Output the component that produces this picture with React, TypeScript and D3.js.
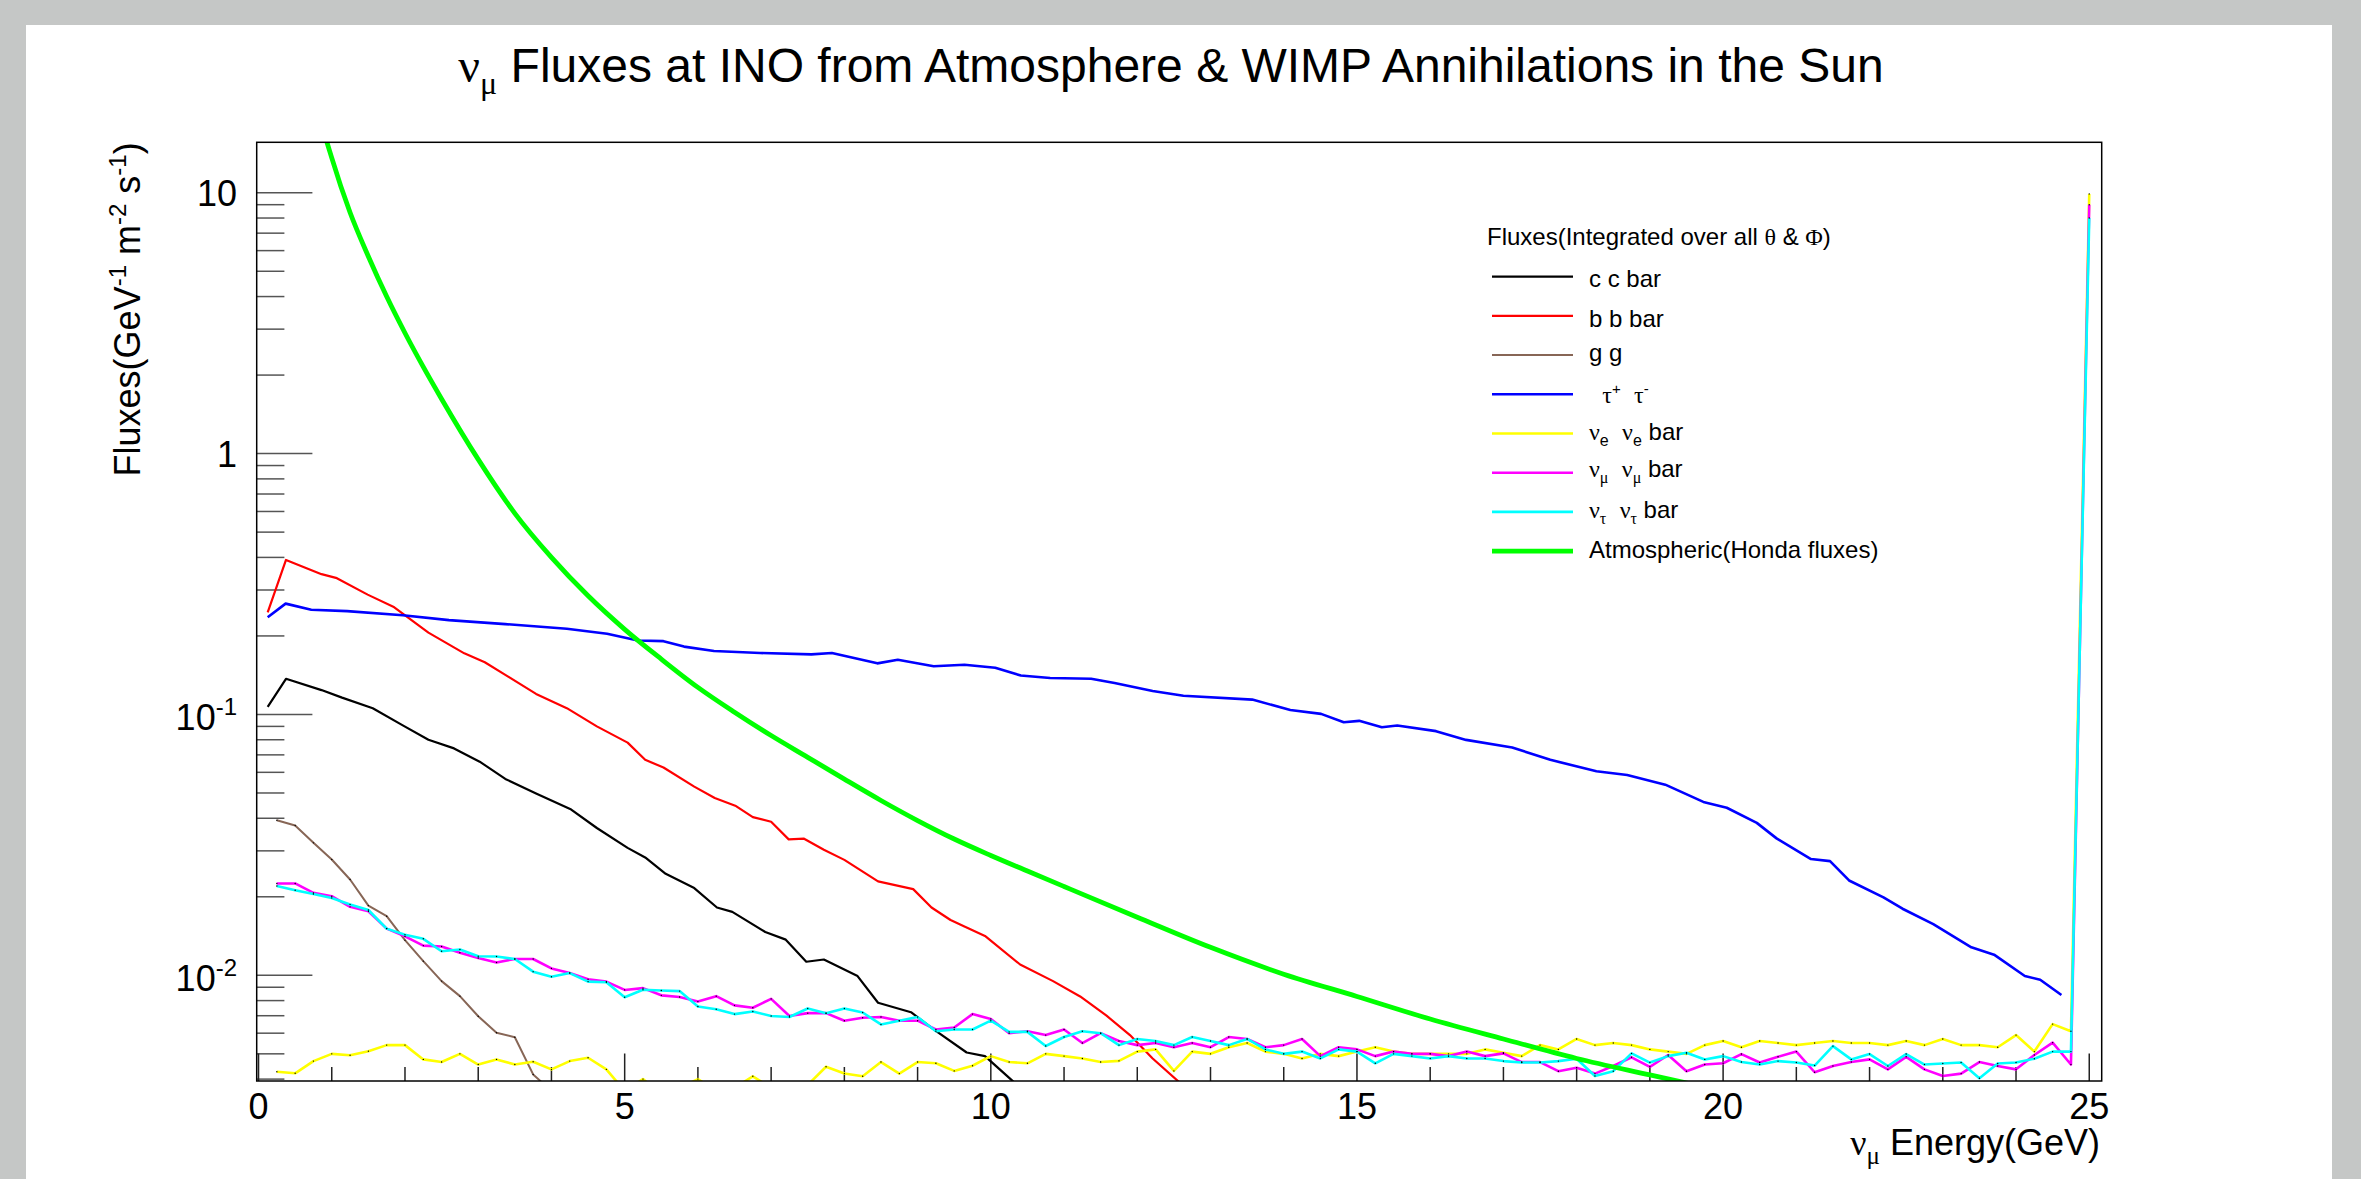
import React from 'react';
import * as d3 from 'd3';

// canvas + frame geometry (px)
const width = 2361;
const height = 1179;
const frame = { left: 256.7, top: 142.3, right: 2101.7, bottom: 1081 };
const xDomain: [number, number] = [-0.025, 25.17];
const yDomain: [number, number] = [0.003934, 15.61];

const sans = "'Liberation Sans', Arial, Helvetica, sans-serif";
const serif = "'Liberation Serif', 'Times New Roman', serif";

// 0.25 GeV bins for the neutrino / gluon channels
const binEnergy = d3.range(1, 101).map(i => i * 0.25);

const nueFlux = [
  0.00427, 0.00421, 0.00469, 0.005, 0.00494, 0.00512, 0.0054, 0.0054, 0.00476, 0.00465,
  0.005, 0.00455, 0.00476, 0.00455, 0.00466, 0.00436, 0.00469, 0.00483, 0.00436, 0.0036,
  0.004, 0.0035, 0.0037, 0.004, 0.0036, 0.0037, 0.0041, 0.0037, 0.0036, 0.0038,
  0.00446, 0.0042, 0.0041, 0.00465, 0.0042, 0.00465, 0.0046, 0.0043, 0.0045, 0.0049,
  0.00465, 0.0046, 0.005, 0.0049, 0.0048, 0.00465, 0.0047, 0.0051, 0.0052, 0.0043,
  0.0051, 0.005, 0.0053, 0.0055, 0.0051, 0.005, 0.0048, 0.005, 0.0049, 0.0051,
  0.0053, 0.0051, 0.005, 0.005, 0.005, 0.005, 0.0052, 0.00505, 0.0049, 0.0054,
  0.0052, 0.0057, 0.0054, 0.0055, 0.0054, 0.0052, 0.0051, 0.005, 0.0054, 0.0056,
  0.0053, 0.0056, 0.0055, 0.0054, 0.0055, 0.0056, 0.0055, 0.0055, 0.0054, 0.0056,
  0.0054, 0.0057, 0.0054, 0.0054, 0.0053, 0.0059, 0.0051, 0.0065, 0.0061, 9.9,
];

const numuFlux = [
  0.0225, 0.0225, 0.0207, 0.0201, 0.0183, 0.0176, 0.0151, 0.0141, 0.013, 0.0129,
  0.0122, 0.01165, 0.0112, 0.01155, 0.01155, 0.01063, 0.0102, 0.00966, 0.00946, 0.00879,
  0.00893, 0.00838, 0.00826, 0.00793, 0.00832, 0.00767, 0.00751, 0.00812, 0.00698, 0.00716,
  0.00716, 0.0067, 0.00688, 0.00692, 0.0067, 0.0067, 0.0062, 0.00631, 0.0071, 0.0068,
  0.006, 0.0061, 0.0059, 0.0062, 0.0055, 0.006, 0.0056, 0.0054, 0.0055, 0.0053,
  0.0055, 0.0053, 0.0058, 0.0057, 0.0053, 0.0054, 0.0057, 0.0049, 0.0053, 0.0052,
  0.0049, 0.0051, 0.005, 0.005, 0.0049, 0.0051, 0.0049, 0.00502, 0.00465, 0.00465,
  0.00429, 0.00442, 0.0042, 0.00449, 0.00485, 0.00446, 0.00495, 0.00429, 0.00455, 0.0046,
  0.00499, 0.00463, 0.00487, 0.0051, 0.00425, 0.00449, 0.00465, 0.00476, 0.00436, 0.00487,
  0.00436, 0.00411, 0.0042, 0.00465, 0.00449, 0.00436, 0.00495, 0.00552, 0.00455, 9.0,
];

const nutauFlux = [
  0.022, 0.0212, 0.0205, 0.0198, 0.0187, 0.0178, 0.0151, 0.0143, 0.0138, 0.01237,
  0.01256, 0.01184, 0.0118, 0.01155, 0.01033, 0.00988, 0.0102, 0.00946, 0.0094, 0.00824,
  0.0088, 0.00875, 0.0087, 0.00759, 0.00741, 0.0071, 0.00727, 0.00698, 0.00692, 0.00746,
  0.00716, 0.00746, 0.0072, 0.00648, 0.0067, 0.00692, 0.0061, 0.0062, 0.0062, 0.0067,
  0.00607, 0.00607, 0.00536, 0.0058, 0.0061, 0.006, 0.0054, 0.0057, 0.0056, 0.0054,
  0.0058, 0.0056, 0.0054, 0.0057, 0.0052, 0.005, 0.0051, 0.0048, 0.0052, 0.0051,
  0.0046, 0.005, 0.0049, 0.0048, 0.0049, 0.0048, 0.0048, 0.00469, 0.00463, 0.00463,
  0.00469, 0.00479, 0.00411, 0.00429, 0.00502, 0.00463, 0.0049, 0.00505, 0.00476, 0.0049,
  0.00465, 0.00455, 0.00469, 0.00463, 0.00451, 0.00535, 0.00476, 0.00499, 0.00449, 0.00499,
  0.00455, 0.00459, 0.00463, 0.00403, 0.00459, 0.00463, 0.00479, 0.0051, 0.0051, 8.0,
];

const ggFlux = [
  0.0393, 0.0375, 0.0322, 0.0278, 0.0233, 0.0185, 0.01685, 0.01364, 0.01133, 0.0095,
  0.00832, 0.00697, 0.00602, 0.00579, 0.00417, 0.0036,
];

// [energy GeV, flux] read along the smoother channels
const ccFlux: [number, number][] = [
  [0.125, 0.107], [0.375, 0.137], [0.86, 0.124], [1.14, 0.116], [1.56, 0.1057], [1.97, 0.0908],
  [2.32, 0.08], [2.67, 0.0741], [3.02, 0.0659], [3.37, 0.0566], [3.79, 0.0498], [4.27, 0.0432],
  [4.62, 0.0367], [5.04, 0.0308], [5.28, 0.0283], [5.56, 0.0245], [5.95, 0.0216], [6.26, 0.0182],
  [6.47, 0.0175], [6.92, 0.01466], [7.2, 0.0137], [7.48, 0.01127], [7.72, 0.0115], [8.18, 0.00993],
  [8.46, 0.00785], [8.91, 0.00722], [9.22, 0.0062], [9.67, 0.00506], [9.92, 0.0049], [10.27, 0.004],
  [10.6, 0.0033],
];

const bbFlux: [number, number][] = [
  [0.125, 0.246], [0.375, 0.391], [0.86, 0.345], [1.07, 0.333], [1.49, 0.288], [1.84, 0.259],
  [2.32, 0.206], [2.81, 0.1715], [3.09, 0.1585], [3.37, 0.1418], [3.79, 0.1199], [4.21, 0.1057],
  [4.62, 0.09], [5.04, 0.078], [5.28, 0.067], [5.53, 0.0626], [5.95, 0.0529], [6.23, 0.0478],
  [6.51, 0.0447], [6.75, 0.0404], [7.0, 0.0388], [7.24, 0.0332], [7.45, 0.0334], [7.72, 0.0303],
  [8.0, 0.0277], [8.46, 0.0229], [8.94, 0.0214], [9.19, 0.0182], [9.45, 0.0163], [9.64, 0.0154],
  [9.92, 0.01416], [10.4, 0.011], [10.85, 0.0095], [11.22, 0.0083], [11.58, 0.007], [11.9, 0.0059],
  [12.21, 0.0048], [12.57, 0.0039], [12.9, 0.0032],
];

const tauFlux: [number, number][] = [
  [0.125, 0.236], [0.37, 0.266], [0.72, 0.252], [1.21, 0.249], [1.97, 0.24], [2.6, 0.23],
  [3.37, 0.222], [4.21, 0.213], [4.76, 0.204], [5.18, 0.192], [5.53, 0.191], [5.81, 0.182],
  [6.22, 0.175], [6.85, 0.172], [7.55, 0.17], [7.83, 0.172], [8.45, 0.157], [8.73, 0.162],
  [9.22, 0.153], [9.64, 0.155], [10.06, 0.151], [10.41, 0.141], [10.81, 0.138], [11.37, 0.137],
  [11.69, 0.132], [12.21, 0.123], [12.63, 0.118], [13.57, 0.114], [14.09, 0.104], [14.51, 0.1005],
  [14.82, 0.0933], [15.03, 0.0945], [15.34, 0.0893], [15.55, 0.0907], [16.08, 0.0863], [16.49, 0.0799],
  [17.12, 0.0747], [17.64, 0.067], [18.27, 0.0606], [18.69, 0.0586], [19.21, 0.0538], [19.73, 0.0462],
  [20.05, 0.0439], [20.46, 0.0384], [20.73, 0.0335], [21.2, 0.0279], [21.46, 0.0274], [21.72, 0.0231],
  [22.19, 0.0199], [22.45, 0.018], [22.87, 0.0157], [23.39, 0.0128], [23.7, 0.012], [24.12, 0.00994],
  [24.33, 0.00961], [24.62, 0.0084],
];

const hondaFlux: [number, number][] = [
  [0.625, 45], [0.875, 18.0], [1.0, 13.6], [1.25, 8.4], [1.5, 5.7], [1.75, 4.0], [2.0, 2.9],
  [2.25, 2.15], [2.5, 1.62], [3.0, 0.95], [3.5, 0.59], [4.0, 0.4], [4.5, 0.285], [5.0, 0.212],
  [5.5, 0.163], [6.0, 0.127], [6.5, 0.102], [7.0, 0.083], [7.5, 0.0685], [8.0, 0.0565], [8.5, 0.0468],
  [9.0, 0.0392], [9.5, 0.0333], [10.0, 0.0288], [10.5, 0.0251], [11.0, 0.0219], [12.0, 0.0167],
  [13.0, 0.0128], [14.0, 0.0101], [15.0, 0.0083], [16.0, 0.0068], [17.0, 0.0057], [18.0, 0.0048],
  [19.0, 0.00415], [20.0, 0.0036],
];

const xTicks = [0, 5, 10, 15, 20, 25];
const xTickLabels = ['0', '5', '10', '15', '20', '25'];
const yTicks = [10, 1, 0.1, 0.01];
const yTickLabels = [['10', ''], ['1', ''], ['10', '-1'], ['10', '-2']];

// legend rows: baseline offsets mimic ROOT's bbox centring
const legendRowY = 276.7;
const legendStep = 39.2;
const legendShift = [10, 10.7, 5.7, 8.7, 6.4, 4.6, 6, 7.3];

const App = () => {
  const x = d3.scaleLinear().domain(xDomain).range([frame.left, frame.right]);
  const y = d3.scaleLog().domain(yDomain).range([frame.bottom, frame.top]);
  const line = d3.line<[number, number]>().x(d => x(d[0])).y(d => y(d[1]));
  const smooth = d3.line<[number, number]>().x(d => x(d[0])).y(d => y(d[1])).curve(d3.curveMonotoneX);

  const binned = (vals: number[]) => vals.map((v, i) => [binEnergy[i], v] as [number, number]);

  const series = [
    { key: 'cc', data: ccFlux, color: '#000000', w: 2.2, dots: false },
    { key: 'bb', data: bbFlux, color: '#ff0000', w: 2.2, dots: false },
    { key: 'gg', data: binned(ggFlux), color: '#876656', w: 2, dots: true },
    { key: 'tau', data: tauFlux, color: '#0000ff', w: 2.6, dots: false },
    { key: 'nue', data: binned(nueFlux), color: '#ffff00', w: 2.6, dots: true },
    { key: 'numu', data: binned(numuFlux), color: '#ff00ff', w: 2.6, dots: true },
    { key: 'nutau', data: binned(nutauFlux), color: '#00ffff', w: 2.6, dots: true },
  ];

  const yMinor: number[] = [];
  for (let e = -3; e <= 1; e++) {
    for (let m = 2; m <= 9; m++) {
      const v = m * Math.pow(10, e);
      if (v >= yDomain[0] && v <= yDomain[1]) yMinor.push(v);
    }
  }
  const xMinor = d3.range(0, 26);

  const legendLabel = (i: number) => {
    switch (i) {
      case 0: return <tspan>c c bar</tspan>;
      case 1: return <tspan>b b bar</tspan>;
      case 2: return <tspan>g g</tspan>;
      case 3: return (
        <>
          <tspan>{'\u00a0 '}</tspan>
          <tspan fontFamily={serif}>τ</tspan>
          <tspan dy={-9} fontSize={15}>+</tspan>
          <tspan dy={9}>{'\u00a0 '}</tspan>
          <tspan fontFamily={serif}>τ</tspan>
          <tspan dy={-9} fontSize={15}>-</tspan>
        </>
      );
      case 4:
      case 5:
      case 6: {
        const s = i === 4 ? 'e' : i === 5 ? 'μ' : 'τ';
        const f = i === 4 ? sans : serif;
        return (
          <>
            <tspan fontFamily={serif}>ν</tspan>
            <tspan dy={6} fontSize={16} fontFamily={f}>{s}</tspan>
            <tspan dy={-6}>{'\u00a0 '}</tspan>
            <tspan fontFamily={serif}>ν</tspan>
            <tspan dy={6} fontSize={16} fontFamily={f}>{s}</tspan>
            <tspan dy={-6}> bar</tspan>
          </>
        );
      }
      default: return <tspan>Atmospheric(Honda fluxes)</tspan>;
    }
  };
  const legendColors = ['#000000', '#ff0000', '#876656', '#0000ff', '#ffff00', '#ff00ff', '#00ffff', '#00ff00'];
  const legendWidths = [2.2, 2.2, 2, 2.6, 2.6, 2.6, 2.6, 4.8];

  return (
    <svg width={width} height={height} style={{ position: 'absolute', left: 0, top: 0, display: 'block' }}
      fontFamily={sans}>
      <rect x={0} y={0} width={width} height={height} fill="#c5c7c6" />
      <rect x={26} y={25} width={2306} height={height - 25} fill="#ffffff" />

      <text x={1171} y={82} textAnchor="middle" fontSize={48}>
        <tspan fontFamily={serif}>ν</tspan>
        <tspan dy={12} fontSize={32} fontFamily={serif}>μ</tspan>
        <tspan dy={-12}> Fluxes at INO from Atmosphere &amp; WIMP Annihilations in the Sun</tspan>
      </text>

      <defs>
        <clipPath id="plotClip">
          <rect x={frame.left} y={frame.top} width={frame.right - frame.left} height={frame.bottom - frame.top} />
        </clipPath>
      </defs>

      {/* y ticks */}
      <g stroke="#555" strokeWidth={1.5}>
        {yTicks.map(v => (
          <line key={'M' + v} x1={frame.left} x2={frame.left + 55.7} y1={y(v)} y2={y(v)} />
        ))}
        {yMinor.map(v => (
          <line key={'m' + v} x1={frame.left} x2={frame.left + 27.7} y1={y(v)} y2={y(v)} />
        ))}
      </g>
      {/* x ticks */}
      <g stroke="#222" strokeWidth={1.5}>
        {xMinor.map(v => (
          <line key={'x' + v} x1={x(v)} x2={x(v)} y1={frame.bottom} y2={frame.bottom - (v % 5 === 0 ? 27.5 : 14)} />
        ))}
      </g>

      <g clipPath="url(#plotClip)" fill="none" strokeLinejoin="round">
        {series.map(s => (
          <path key={s.key} d={line(s.data) || ''} stroke={s.color} strokeWidth={s.w} />
        ))}
        {series.filter(s => s.dots).map(s => (
          <g key={s.key + 'd'} fill="#000" stroke="none">
            {s.data.map((d, i) => (
              <circle key={i} cx={x(d[0])} cy={y(d[1])} r={0.7} />
            ))}
          </g>
        ))}
        <path d={smooth(hondaFlux) || ''} stroke="#00ff00" strokeWidth={4.8} fill="none" />
      </g>

      <rect x={frame.left} y={frame.top} width={frame.right - frame.left} height={frame.bottom - frame.top}
        fill="none" stroke="#000" strokeWidth={1.5} />

      {/* tick labels */}
      <g fontSize={36} fill="#000">
        {xTicks.map((v, i) => (
          <text key={v} x={x(v)} y={1119} textAnchor="middle">{xTickLabels[i]}</text>
        ))}
        {yTicks.map((v, i) => (
          <text key={v} x={237} y={y(v) + (yTickLabels[i][1] ? 16 : 13)} textAnchor="end">
            {yTickLabels[i][0]}
            {yTickLabels[i][1] && <tspan dy={-15} fontSize={24}>{yTickLabels[i][1]}</tspan>}
          </text>
        ))}
      </g>

      {/* axis titles */}
      <text x={2100} y={1155} textAnchor="end" fontSize={36}>
        <tspan fontFamily={serif}>ν</tspan>
        <tspan dy={9} fontSize={25} fontFamily={serif}>μ</tspan>
        <tspan dy={-9}> Energy(GeV)</tspan>
      </text>
      <text transform={`translate(140,${frame.top}) rotate(-90)`} textAnchor="end" fontSize={36}>
        Fluxes(GeV
        <tspan dy={-14} fontSize={24}>-1</tspan>
        <tspan dy={14}> m</tspan>
        <tspan dy={-14} fontSize={24}>-2</tspan>
        <tspan dy={14}> s</tspan>
        <tspan dy={-14} fontSize={24}>-1</tspan>
        <tspan dy={14}>)</tspan>
      </text>

      {/* legend */}
      <text x={1487} y={245} fontSize={24}>
        Fluxes(Integrated over all <tspan fontFamily={serif}>θ</tspan> &amp; <tspan fontFamily={serif}>Φ</tspan>)
      </text>
      {legendColors.map((c, i) => {
        const ry = legendRowY + legendStep * i;
        return (
          <g key={i}>
            <line x1={1492} x2={1573} y1={ry} y2={ry} stroke={c} strokeWidth={legendWidths[i]} />
            <text x={1589} y={ry + legendShift[i]} fontSize={24}>{legendLabel(i)}</text>
          </g>
        );
      })}
    </svg>
  );
};

export default App;
